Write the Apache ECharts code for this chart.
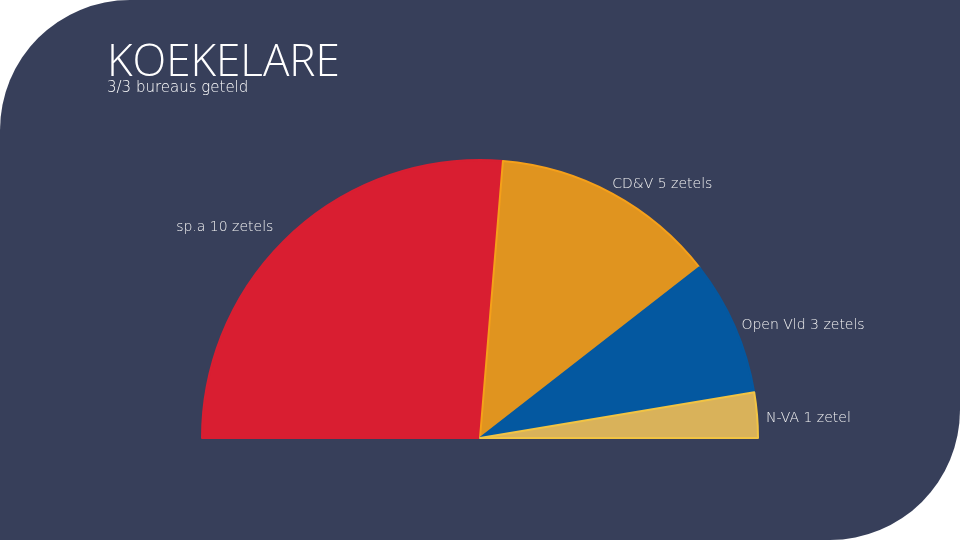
<!DOCTYPE html>
<html>
<head>
<meta charset="utf-8">
<script src="https://cdn.jsdelivr.net/npm/echarts@6/dist/echarts.min.js"></script>
<style>
  html, body { margin: 0; padding: 0; background: #ffffff; }
  #main { width: 960px; height: 540px; }
</style>
</head>
<body>
<div id="main"></div>
<script>
var parties = ['sp.a', 'CD&V', 'Open Vld', 'N-VA'];
var seats = [10, 5, 3, 1];
var colors = ['#d91e31', '#e0941f', '#0458a0', '#d9b25a'];
var borders = ['#d91e31', '#f5a01a', '#0458a0', '#f2c443'];

var chart = echarts.init(document.getElementById('main'));

var data = parties.map(function (p, i) {
  return {
    name: p,
    value: seats[i],
    itemStyle: { color: colors[i], borderColor: borders[i], borderWidth: 2 }
  };
});

// small label nudges so the labels sit where the original puts them
var nudge = [[-10, -5], [-8, -7], [-2, 0], [0, 3]];

var option = {
  backgroundColor: '#ffffff',
  animation: false,
  graphic: [{
    type: 'rect',
    shape: { x: 0, y: 0, width: 960, height: 540, r: [130, 0, 130, 0] },
    style: { fill: '#373f5a' },
    z: -10
  }],
  title: {
    text: 'KOEKELARE',
    subtext: '3/3 bureaus geteld',
    left: 102,
    top: 36,
    itemGap: -4,
    textStyle: { color: '#ffffff', fontFamily: 'Open Sans', fontWeight: 300, fontSize: 44 },
    subtextStyle: { color: '#ffffff', fontFamily: 'DejaVu Sans', fontWeight: 200, fontSize: 15 }
  },
  series: [{
    type: 'pie',
    center: [480, 438],
    radius: [0, 278],
    startAngle: 180,
    endAngle: 0,
    clockwise: true,
    data: data,
    label: {
      show: true,
      position: 'outside',
      color: '#f2f2f2',
      fontFamily: 'DejaVu Sans',
      fontWeight: 200,
      fontSize: 14,
      formatter: function (p) {
        return p.name + ' ' + p.value + (p.value === 1 ? ' zetel' : ' zetels');
      }
    },
    labelLine: { show: false, length: 2, length2: 2 },
    labelLayout: function (p) {
      var n = nudge[p.dataIndex];
      return { dx: n[0], dy: n[1] };
    }
  }]
};

chart.setOption(option);
</script>
</body>
</html>
